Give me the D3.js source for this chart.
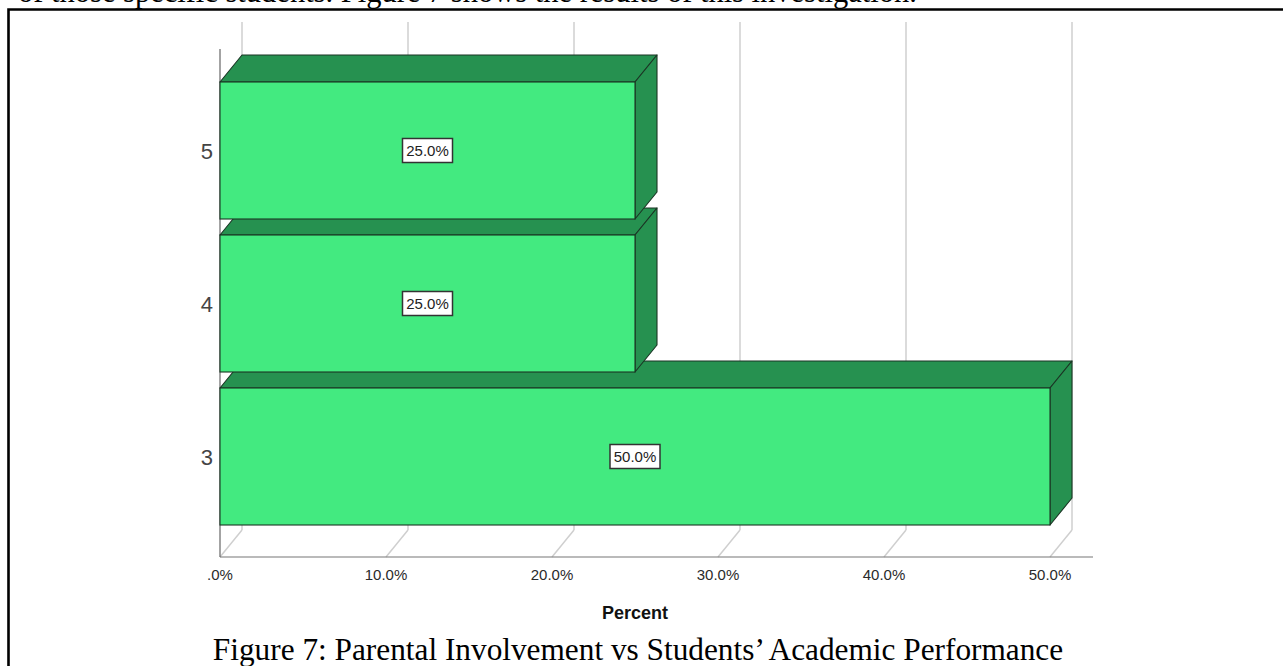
<!DOCTYPE html>
<html>
<head>
<meta charset="utf-8">
<script src="https://cdn.jsdelivr.net/npm/d3@7"></script>
<style>
  html, body { margin: 0; padding: 0; background: #fff; }
  svg { display: block; }
</style>
</head>
<body>
<svg id="chart" width="1283" height="666"></svg>
<script>
// ---- data ----
const categories = ["5", "4", "3"];
const percents = [25.0, 25.0, 50.0];
const xTicks = [0, 10, 20, 30, 40, 50];
const xTickLabels = [".0%", "10.0%", "20.0%", "30.0%", "40.0%", "50.0%"];
const valueLabels = ["25.0%", "25.0%", "50.0%"];
const axisTitle = "Percent";
const captionText = "Figure 7: Parental Involvement vs Students\u2019 Academic Performance";
const precedingText = "of those specific students. Figure 7 shows the results of this investigation.";

// ---- layout ----
const svg = d3.select("#chart");
const plotLeft = 220, plotRight = 1093, plotTop = 49, plotBottom = 557;
const dx = 22, dy = -27; // 3D depth offset

const x = d3.scaleLinear().domain([0, 50]).range([220, 1050]);
const y = d3.scaleBand().domain(categories).range([74, 533])
  .paddingInner(16 / 153).paddingOuter(8 / 153);

const frontColor = "#43EA80";
const darkColor = "#269150";
const edgeColor = "#1a3524";

// preceding paragraph line (clipped by the top edge, as in the source page) and frame
svg.append("text")
  .attr("x", 18).attr("y", 1.5)
  .attr("font-family", "'Liberation Serif', 'Times New Roman', serif")
  .attr("font-size", 30.5).attr("fill", "#000")
  .text(precedingText);

svg.append("path")
  .attr("d", `M 8.5 700 L 8.5 9.5 L 1300 9.5`)
  .attr("fill", "none").attr("stroke", "#000").attr("stroke-width", 2.6);

// back-wall gridlines + floor diagonals
const grid = svg.append("g");
xTicks.forEach(t => {
  const gx = x(t);
  grid.append("line")
    .attr("x1", gx + dx).attr("x2", gx + dx)
    .attr("y1", plotTop + dy).attr("y2", plotBottom + dy)
    .attr("stroke", "#cfcfcf").attr("stroke-width", 1.5);
  grid.append("line")
    .attr("x1", gx).attr("y1", plotBottom)
    .attr("x2", gx + dx).attr("y2", plotBottom + dy)
    .attr("stroke", "#cfcfcf").attr("stroke-width", 1.5);
});

// axes lines
svg.append("line")
  .attr("x1", plotLeft).attr("x2", plotLeft)
  .attr("y1", plotTop).attr("y2", plotBottom)
  .attr("stroke", "#666").attr("stroke-width", 1.2);
svg.append("line")
  .attr("x1", plotLeft).attr("x2", plotRight)
  .attr("y1", plotBottom).attr("y2", plotBottom)
  .attr("stroke", "#777").attr("stroke-width", 1.2);

// bars, drawn bottom to top so upper bars overlap lower bar tops
const data = categories.map((c, i) => ({ c, v: percents[i], label: valueLabels[i] }));
const barsG = svg.append("g");
data.slice().reverse().forEach(d => {
  const x0 = x(0), x1 = x(d.v);
  const y0 = y(d.c), y1 = y0 + y.bandwidth();
  const g = barsG.append("g");
  g.append("path")
    .attr("d", `M${x0},${y0} L${x0 + dx},${y0 + dy} L${x1 + dx},${y0 + dy} L${x1},${y0} Z`)
    .attr("fill", darkColor).attr("stroke", edgeColor).attr("stroke-width", 1.1).attr("stroke-linejoin", "round");
  g.append("path")
    .attr("d", `M${x1},${y0} L${x1 + dx},${y0 + dy} L${x1 + dx},${y1 + dy} L${x1},${y1} Z`)
    .attr("fill", darkColor).attr("stroke", edgeColor).attr("stroke-width", 1.1).attr("stroke-linejoin", "round");
  g.append("rect")
    .attr("x", x0).attr("y", y0)
    .attr("width", x1 - x0).attr("height", y1 - y0)
    .attr("fill", frontColor).attr("stroke", edgeColor).attr("stroke-width", 1.1);
  const cx = (x0 + x1) / 2, cy = (y0 + y1) / 2;
  const bw = 50, bh = 24;
  g.append("rect")
    .attr("x", cx - bw / 2).attr("y", cy - bh / 2)
    .attr("width", bw).attr("height", bh)
    .attr("fill", "#fff").attr("stroke", "#333").attr("stroke-width", 1.5);
  g.append("text")
    .attr("x", cx).attr("y", cy + 5.5)
    .attr("text-anchor", "middle")
    .attr("font-family", "'Liberation Sans', Arial, sans-serif")
    .attr("font-size", 15).attr("fill", "#222")
    .text(d.label);
});

// category labels
svg.append("g").selectAll("text").data(categories).join("text")
  .attr("x", 213)
  .attr("y", c => y(c) + y.bandwidth() / 2 + 8)
  .attr("text-anchor", "end")
  .attr("font-family", "'Liberation Sans', Arial, sans-serif")
  .attr("font-size", 22).attr("fill", "#444")
  .text(c => c);

// x tick labels
svg.append("g").selectAll("text").data(xTicks).join("text")
  .attr("x", t => x(t))
  .attr("y", 580)
  .attr("text-anchor", "middle")
  .attr("font-family", "'Liberation Sans', Arial, sans-serif")
  .attr("font-size", 15).attr("fill", "#2a2a2a")
  .text((t, i) => xTickLabels[i]);

// axis title, centred on the value range
svg.append("text")
  .attr("x", (x(0) + x(50)) / 2).attr("y", 619)
  .attr("text-anchor", "middle")
  .attr("font-family", "'Liberation Sans', Arial, sans-serif")
  .attr("font-size", 18).attr("font-weight", "bold").attr("fill", "#111")
  .text(axisTitle);

// caption
svg.append("text")
  .attr("x", 638).attr("y", 660)
  .attr("text-anchor", "middle")
  .attr("font-family", "'Liberation Serif', 'Times New Roman', serif")
  .attr("font-size", 31.3).attr("fill", "#000")
  .text(captionText);
</script>
</body>
</html>
